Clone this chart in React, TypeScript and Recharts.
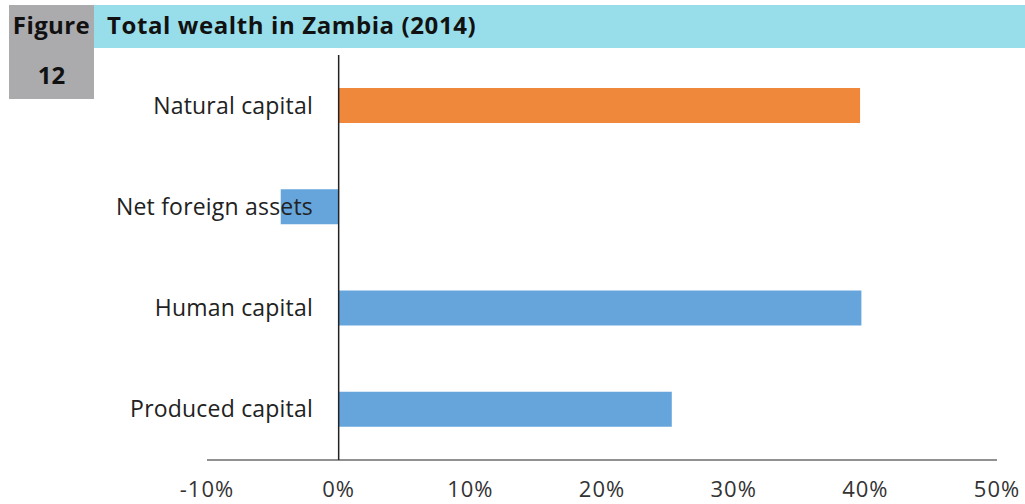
import { Bar, BarChart, Cell, ReferenceLine, XAxis, YAxis } from "recharts"

const categories = ["Natural capital", "Net foreign assets", "Human capital", "Produced capital"]
const shares = [39.6, -4.4, 39.7, 25.3]
const barColors = ["#F0883B", "#66A5DB", "#66A5DB", "#66A5DB"]
const xTicks = [-10, 0, 10, 20, 30, 40, 50]

const data = categories.map((name, i) => ({ name, value: shares[i] }))

const FONT = "'Open Sans', sans-serif"

const CategoryTick = (props: any) => {
    const { y, payload } = props
    return (
        <text x={313} y={y} dy="0.35em" textAnchor="end" fontSize={23} letterSpacing={0.2} fontFamily={FONT} fill="#222">
            {payload.value}
        </text>
    )
}

const App = () => {
    return (
        <div style={{ position: "absolute", left: 0, top: 0, width: 1025, height: 504, background: "#fff", fontFamily: FONT }}>
            <div style={{ position: "absolute", left: 9, top: 5, width: 85, height: 94, background: "#ABABAE" }} />
            <div style={{ position: "absolute", left: 94, top: 5, width: 931, height: 43, background: "#98DEEA" }} />
            <div style={{ position: "absolute", left: 9, top: 3, width: 85, height: 43, lineHeight: "43px", textAlign: "center", fontWeight: 700, fontSize: 24, letterSpacing: 0.4, color: "#111" }}>
                Figure
            </div>
            <div style={{ position: "absolute", left: 9, top: 53, width: 85, height: 43, lineHeight: "43px", textAlign: "center", fontWeight: 700, fontSize: 24, color: "#111" }}>
                12
            </div>
            <div style={{ position: "absolute", left: 107, top: 3, height: 43, lineHeight: "43px", fontWeight: 700, fontSize: 24, letterSpacing: 0.6, color: "#111", whiteSpace: "nowrap" }}>
                Total wealth in Zambia (2014)
            </div>
            <div style={{ position: "absolute", left: 0, top: 0 }}>
                <BarChart width={1025} height={504} data={data} layout="vertical" margin={{ top: 55, right: 28, left: 0, bottom: 0 }}>
                    <XAxis
                        type="number"
                        domain={[-10, 50]}
                        ticks={xTicks}
                        tickFormatter={(v) => `${v}%`}
                        height={44}
                        tickLine={false}
                        tickMargin={15}
                        stroke="#222"
                        tick={{ fill: "#333", fontSize: 22, letterSpacing: 1, fontFamily: FONT }}
                    />
                    <YAxis type="category" dataKey="name" width={207} axisLine={false} tickLine={false} tick={<CategoryTick />} />
                    <Bar dataKey="value" barSize={35} isAnimationActive={false}>
                        {data.map((d, i) => (
                            <Cell key={d.name} fill={barColors[i]} />
                        ))}
                    </Bar>
                    <ReferenceLine x={0} stroke="#222" strokeWidth={1.5} />
                </BarChart>
            </div>
        </div>
    )
}

export default App
